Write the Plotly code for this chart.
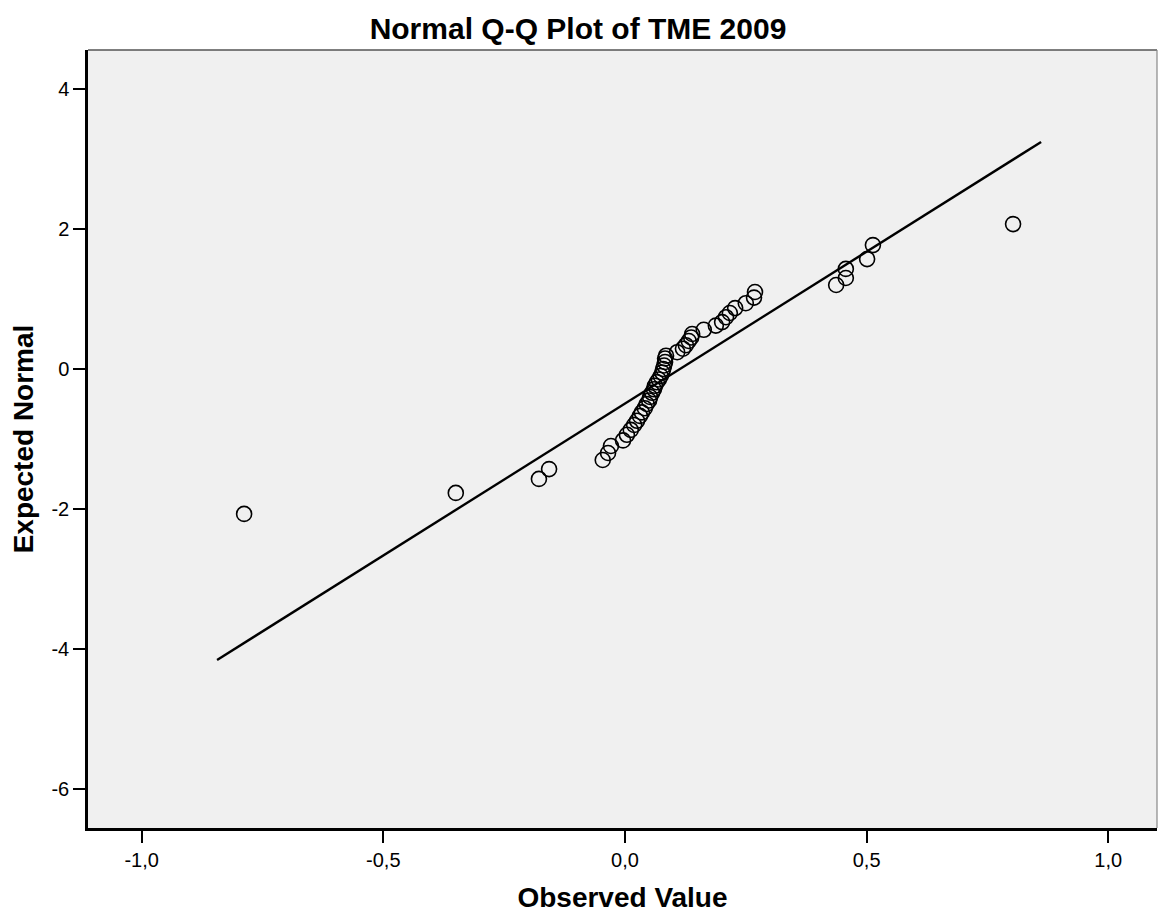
import plotly.graph_objects as go

observed = [-0.788, -0.350, -0.178, -0.157, -0.046, -0.035, -0.029, -0.004, 0.004, 0.012,
            0.019, 0.025, 0.031, 0.035, 0.041, 0.045, 0.050, 0.052, 0.056, 0.060,
            0.062, 0.066, 0.070, 0.074, 0.077, 0.079, 0.081, 0.083, 0.083, 0.085,
            0.108, 0.120, 0.126, 0.132, 0.137, 0.139, 0.163, 0.188, 0.201, 0.209,
            0.217, 0.228, 0.250, 0.267, 0.269, 0.437, 0.457, 0.457, 0.501, 0.513,
            0.803]
expected = [-2.07, -1.77, -1.57, -1.43, -1.30, -1.20, -1.10, -1.02, -0.94, -0.87,
            -0.80, -0.74, -0.67, -0.62, -0.56, -0.50, -0.45, -0.40, -0.34, -0.29,
            -0.24, -0.19, -0.15, -0.10, -0.05, 0.00, 0.05, 0.10, 0.15, 0.19,
            0.24, 0.29, 0.34, 0.40, 0.45, 0.50, 0.56, 0.62, 0.67, 0.74,
            0.80, 0.87, 0.94, 1.02, 1.10, 1.20, 1.30, 1.43, 1.57, 1.77,
            2.07]

# Reference line end points
line_x = [-0.844, 0.861]
line_y = [-4.157, 3.243]

x_tickvals = [-1.0, -0.5, 0.0, 0.5, 1.0]
x_ticktext = ["-1,0", "-0,5", "0,0", "0,5", "1,0"]
y_tickvals = [4, 2, 0, -2, -4, -6]
y_ticktext = ["4", "2", "0", "-2", "-4", "-6"]

FONT = "Liberation Sans, Arial, sans-serif"

fig = go.Figure()
fig.add_trace(go.Scatter(x=line_x, y=line_y, mode="lines",
                         line=dict(color="black", width=2.4),
                         hoverinfo="skip", showlegend=False))
fig.add_trace(go.Scatter(x=observed, y=expected, mode="markers",
                         marker=dict(symbol="circle-open", size=15, color="black",
                                     line=dict(color="black", width=1.6)),
                         showlegend=False))

fig.update_layout(
    width=1161, height=916,
    margin=dict(l=88, r=4, t=50, b=88),
    paper_bgcolor="white", plot_bgcolor="#F0F0F0",
    font=dict(family=FONT, color="black"),
    title=dict(text="<b>Normal Q-Q Plot of TME 2009</b>", x=578 / 1161, xanchor="center",
               y=1 - 28 / 916, yanchor="middle", font=dict(size=30, family=FONT)),
    shapes=[dict(type="line", xref="paper", yref="paper", x0=0, x1=1, y0=1, y1=1,
                 line=dict(color="#555555", width=1.5), layer="above"),
            dict(type="line", xref="paper", yref="paper", x0=1, x1=1, y0=0, y1=1,
                 line=dict(color="#888888", width=1.2), layer="above")],
)
fig.update_xaxes(range=[-1.111, 1.1008], tickvals=x_tickvals, ticktext=x_ticktext,
                 ticks="outside", ticklen=12, tickwidth=2, tickcolor="black",
                 showline=True, linecolor="black", linewidth=2.5,
                 showgrid=False, zeroline=False,
                 tickfont=dict(size=20, family=FONT),
                 title=dict(text="<b>Observed Value</b>", font=dict(size=28, family=FONT),
                            standoff=18))
fig.update_yaxes(range=[-6.557, 4.557], tickvals=y_tickvals, ticktext=y_ticktext,
                 ticks="outside", ticklen=12, tickwidth=2, tickcolor="black",
                 showline=True, linecolor="black", linewidth=2.5,
                 showgrid=False, zeroline=False,
                 tickfont=dict(size=20, family=FONT),
                 title=dict(text="<b>Expected Normal</b>", font=dict(size=28, family=FONT),
                            standoff=10))

fig.write_html("out.html", config={"displayModeBar": False},
               post_script="document.body.style.margin='0';document.body.style.padding='0';")
